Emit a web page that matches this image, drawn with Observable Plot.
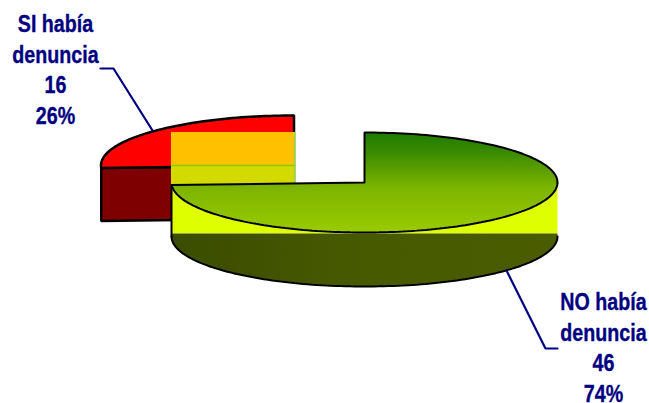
<!DOCTYPE html>
<html>
<head>
<meta charset="utf-8">
<style>html,body{margin:0;padding:0;background:#fff}svg{display:block}</style>
<script src="https://cdn.jsdelivr.net/npm/d3@7"></script>
<script src="https://cdn.jsdelivr.net/npm/@observablehq/plot@0.6"></script>
</head>
<body>
<script>
const categories = ["NO había\ndenuncia", "SI había\ndenuncia"];
const counts = [46, 16];
const percents = ["74%", "26%"];

const W = 649, H = 403;
const RX = 193, RY = 50;
const noCentre = [364, 182], siCentre = [293.5, 165];
const DEPTH = 54, BAND_Y = 233;

const arcs = d3.pie().sort(null).startAngle(0).endAngle(2 * Math.PI)(counts);
const [noArc, siArc] = arcs;

function arcPts(c, a0, a1, dy = 0) {
  const n = Math.max(2, Math.ceil(Math.abs(a1 - a0) * 40));
  return d3.range(n + 1).map(i => {
    const a = a0 + (a1 - a0) * i / n;
    return [c[0] + RX * Math.sin(a), c[1] - RY * Math.cos(a) + dy];
  });
}
const pt = (c, a) => arcPts(c, a, a + 1e-6)[0];
const poly = (pts, o) => Plot.line(pts, {x: d => d[0], y: d => d[1], strokeLinejoin: "miter", ...o});
const box = (x1, x2, y1, y2, fill) => Plot.rect([0], {x1: () => x1, x2: () => x2, y1: () => y1, y2: () => y2, fill});

const noTop = [noCentre, ...arcPts(noCentre, noArc.startAngle, noArc.endAngle), noCentre];
const siTop = [siCentre, ...arcPts(siCentre, siArc.startAngle, siArc.endAngle), siCentre];
const siStart = pt(siCentre, siArc.startAngle);
const siFace = [siStart, siCentre, [siCentre[0], siCentre[1] + 53], [siStart[0], siStart[1] + 53], siStart];

const noStart = pt(noCentre, noArc.endAngle);
const xL = noCentre[0] - RX, xR = noCentre[0] + RX;
const yellow = [noStart, noCentre, [xR, noCentre[1]], [xR, BAND_Y], [xL, BAND_Y], noStart];
const lowArc = arcPts(noCentre, Math.PI / 2, 3 * Math.PI / 2, DEPTH);
const olive = [[xL, BAND_Y], [xR, BAND_Y], ...lowArc, [xL, BAND_Y]];

const defs = () => {
  const s = d3.create("svg:g");
  const d = s.append("defs");
  const g = d.append("linearGradient").attr("id", "greenTop").attr("x1", 0).attr("x2", 0).attr("y1", 0).attr("y2", 1);
  g.append("stop").attr("offset", 0).attr("stop-color", "#1c7a00");
  g.append("stop").attr("offset", .21).attr("stop-color", "#3c8c00");
  g.append("stop").attr("offset", .55).attr("stop-color", "#7db400");
  g.append("stop").attr("offset", 1).attr("stop-color", "#99cc00");
  const o = d.append("linearGradient").attr("id", "oliveSide").attr("x1", 0).attr("x2", 1).attr("y1", 0).attr("y2", 0);
  o.append("stop").attr("offset", 0).attr("stop-color", "#3a4c00");
  o.append("stop").attr("offset", .5).attr("stop-color", "#485a00");
  o.append("stop").attr("offset", 1).attr("stop-color", "#4a5c00");
  return s.node();
};

const labels = [
  {x: 603, y: 401, text: `${categories[0]}\n${counts[0]}\n${percents[0]}`},
  {x: 55, y: 123, text: `${categories[1]}\n${counts[1]}\n${percents[1]}`}
];
const leaders = [
  [[506, 270], [545, 348], [557, 348]],
  [[100, 68], [113, 68], [152, 130]]
];

// The reference uses a narrow bold face: condense the installed bold face to the same width.
const condense = (index, scales, values, dims, context, next) => {
  const g = next(index, scales, values, dims, context);
  g.querySelectorAll("text").forEach(t => {
    t.setAttribute("transform", `${t.getAttribute("transform") || ""} scale(0.82,1)`);
  });
  return g;
};

document.body.append(Plot.plot({
  width: W, height: H,
  margin: 0,
  x: {domain: [0, W], range: [0, W], axis: null},
  y: {domain: [0, H], range: [0, H], axis: null},
  marks: [
    defs,
    poly(siFace, {fill: "#7f0000", stroke: "#000", strokeWidth: 2.5}),
    poly(siTop, {fill: "#ff0000", stroke: "#000", strokeWidth: 2.5}),
    box(171, 294, 132, 165, "#ffc000"),
    box(171, 294, 165, 184, "#d2da00"),
    poly([[171, 165], [294, 165]], {stroke: "#86cc00", strokeWidth: 1.5}),
    poly([[294, 132], [294, 183]], {stroke: "#99dd22", strokeWidth: 1.5}),
    poly(yellow, {fill: "#ddff00", stroke: "none"}),
    poly(olive, {fill: "url(#oliveSide)", stroke: "none"}),
    poly(lowArc, {stroke: "#000", strokeWidth: 2}),
    poly([[xL, noStart[1]], [xL, lowArc[lowArc.length - 1][1]]], {stroke: "#000", strokeWidth: 2}),
    poly(noTop, {fill: "url(#greenTop)", stroke: "#000", strokeWidth: 2}),
    ...leaders.map(l => poly(l, {stroke: "#000080", strokeWidth: 2.2})),
    Plot.text(labels, {
      x: "x", y: "y", text: "text", lineAnchor: "bottom", textAnchor: "middle",
      lineHeight: 1.27, fontSize: 24, fontWeight: "bold",
      fontFamily: "'Liberation Sans',Arial,sans-serif",
      fill: "#000080", stroke: "#000080", strokeWidth: 0.35, render: condense
    })
  ]
}));
</script>
</body>
</html>
